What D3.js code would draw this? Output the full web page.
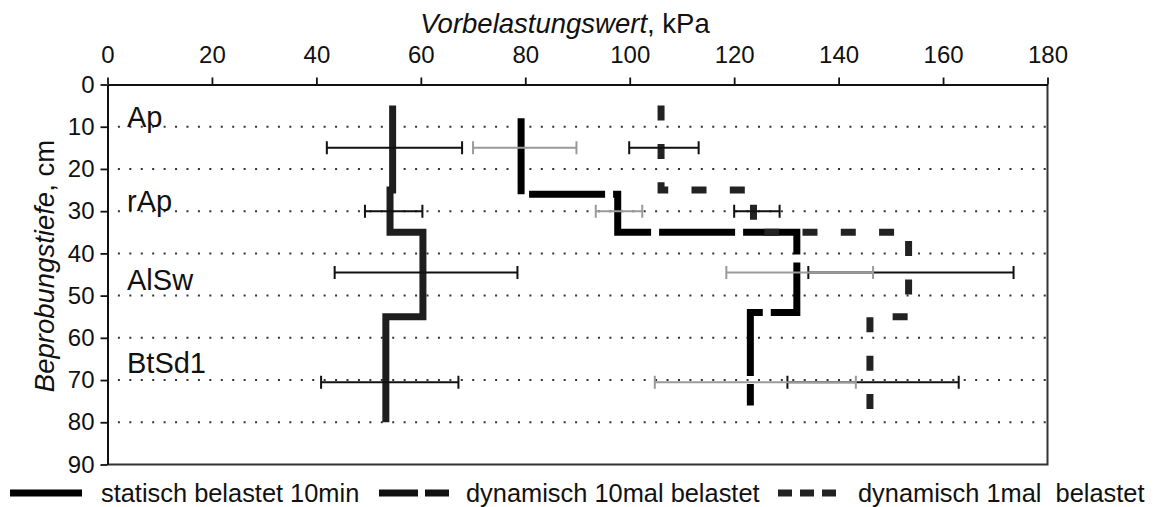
<!doctype html>
<html lang="de">
<head>
    <meta charset="utf-8">
    <title>Vorbelastungswert</title>
    <script src="https://d3js.org/d3.v7.min.js"></script>
    <style type="text/css">
        body { margin: 0; background: #fff; }
        text { font-family: "Liberation Sans", Arial, sans-serif; fill: #111; }
    </style>
</head>

<body>
</body>

<script type="text/javascript">

    var width  = 1154;
    var height = 507;

    // horizons (Bodenhorizonte) and where their labels sit (depth, cm)
    var layers     = ["Ap", "rAp", "AlSw", "BtSd1"];
    var labelDepth = [10, 30, 48.6, 68.4];

    // step profiles: value per horizon, depth boundaries (cm)
    var statValues = [54.6, 54.1, 60.4, 53.3];
    var statDepths = [5, 25, 35, 55, 80];
    var dyn10Values = [79.2, 97.7, 132, 123.1];
    var dyn10Depths = [8, 26, 35, 54, 76];
    var dyn1Values = [106, 123.7, 153.4, 146];
    var dyn1Depths = [5, 25, 35, 55, 77];

    // error bars (lower / upper, kPa) at depth
    var errDepth   = [15, 30, 44.5, 70.5];
    var statLow    = [42.0, 49.3, 43.5, 40.9];
    var statHigh   = [67.9, 60.3, 78.5, 67.2];
    var dyn10Low   = [70.0, 93.5, 118.5, 104.8];
    var dyn10High  = [89.8, 102.4, 146.6, 143.3];
    var dyn1Low    = [99.9, 120.0, 134.2, 130.2];
    var dyn1High   = [113.2, 128.7, 173.5, 163.0];

    var xTicks = [0, 20, 40, 60, 80, 100, 120, 140, 160, 180];
    var yTicks = [0, 10, 20, 30, 40, 50, 60, 70, 80, 90];
    var gridDepths = [10, 20, 30, 40, 50, 60, 70, 80];

    var legendLabels = ["statisch belastet 10min", "dynamisch 10mal belastet", "dynamisch 1mal  belastet"];

    var x = d3.scaleLinear().domain([0, 180]).range([107.5, 1047.5]);
    var y = d3.scaleLinear().domain([0, 90]).range([84.5, 464.5]);

    var svg = d3.select("body")
        .append("svg")
        .attr("width", width)
        .attr("height", height)
        .style("background", "#fff");

    // dotted grid
    svg.selectAll(".grid")
        .data(gridDepths)
        .enter()
        .append("line")
        .attr("x1", x(0) + 0.5)
        .attr("x2", x(180))
        .attr("y1", d => y(d))
        .attr("y2", d => y(d))
        .attr("stroke", "#333")
        .attr("stroke-width", 2)
        .attr("stroke-dasharray", "2,9.43")
        .attr("stroke-dashoffset", -9.9);

    // frame right / bottom
    svg.append("path")
        .attr("d", "M" + x(180) + "," + y(0) + "V" + y(90) + "H" + x(0))
        .attr("fill", "none")
        .attr("stroke", "#333")
        .attr("stroke-width", 2);

    // axes
    var xAxis = svg.append("g")
        .attr("transform", "translate(0," + y(0) + ")")
        .call(d3.axisTop(x).tickValues(xTicks).tickSize(7).tickSizeOuter(0).tickPadding(15));

    var yAxis = svg.append("g")
        .attr("transform", "translate(" + x(0) + ",0)")
        .call(d3.axisLeft(y).tickValues(yTicks).tickSize(7).tickSizeOuter(0).tickPadding(6));

    [xAxis, yAxis].forEach(g => {
        g.select(".domain").attr("stroke", "#111").attr("stroke-width", 2);
        g.selectAll(".tick line").attr("stroke", "#111").attr("stroke-width", 1.8);
        g.selectAll(".tick text")
            .attr("fill", "#111")
            .style("font-size", "24px")
            .style("font-family", "'Liberation Sans', Arial, sans-serif");
    });

    // axis titles
    var xt = svg.append("text")
        .attr("x", 565)
        .attr("y", 33)
        .attr("text-anchor", "middle")
        .style("font-size", "27.5px");
    xt.append("tspan").style("font-style", "italic").text("Vorbelastungswert");
    xt.append("tspan").text(", kPa");

    var yt = svg.append("text")
        .attr("transform", "translate(54,266) rotate(-90)")
        .attr("text-anchor", "middle")
        .style("font-size", "27.5px");
    yt.append("tspan").style("font-style", "italic").text("Beprobungstiefe");
    yt.append("tspan").text(", cm");

    // horizon labels
    svg.selectAll(".layer")
        .data(layers)
        .enter()
        .append("text")
        .attr("x", 127)
        .attr("y", (d, i) => y(labelDepth[i]))
        .style("font-size", "29px")
        .text(d => d);

    // step profiles
    function stepPoints(values, depths) {
        var pts = [];
        values.forEach((v, i) => {
            pts.push([v, depths[i]]);
            pts.push([v, depths[i + 1]]);
        });
        return pts;
    }

    var line = d3.line().x(d => x(d[0])).y(d => y(d[1]));

    var series = [
        {pts: stepPoints(statValues, statDepths), color: "#1e1e1e", dash: null},
        {pts: stepPoints(dyn10Values, dyn10Depths), color: "#000", dash: "76,8"},
        {pts: stepPoints(dyn1Values, dyn1Depths), color: "#222", dash: "15,23.3"}
    ];

    svg.selectAll(".profile")
        .data(series)
        .enter()
        .append("path")
        .attr("d", d => line(d.pts))
        .attr("fill", "none")
        .attr("stroke", d => d.color)
        .attr("stroke-width", 7)
        .attr("stroke-linejoin", "miter")
        .attr("stroke-dasharray", d => d.dash);

    // error bars: black ones first, grey on top
    var bars = [
        {lo: statLow, hi: statHigh, color: "#111"},
        {lo: dyn1Low, hi: dyn1High, color: "#111"},
        {lo: dyn10Low, hi: dyn10High, color: "#9a9a9a"}
    ];

    bars.forEach(b => {
        var g = svg.append("g")
            .attr("stroke", b.color)
            .attr("stroke-width", 2)
            .attr("fill", "none");
        g.selectAll("path")
            .data(errDepth)
            .enter()
            .append("path")
            .attr("d", (d, i) => {
                var yy = y(d), x0 = x(b.lo[i]), x1 = x(b.hi[i]);
                return "M" + x0 + "," + (yy - 6.5) + "V" + (yy + 6.5) +
                       "M" + x0 + "," + yy + "H" + x1 +
                       "M" + x1 + "," + (yy - 6.5) + "V" + (yy + 6.5);
            });
    });

    // legend
    var legendItems = [
        {x1: 10, x2: 82, tx: 101, color: "#000", dash: null},
        {x1: 379, x2: 449, tx: 466, color: "#111", dash: "39,7"},
        {x1: 778, x2: 836, tx: 858, color: "#222", dash: "14,8"}
    ];

    var lg = svg.selectAll(".legend")
        .data(legendItems)
        .enter()
        .append("g");

    lg.append("line")
        .attr("x1", d => d.x1)
        .attr("x2", d => d.x2)
        .attr("y1", 493)
        .attr("y2", 493)
        .attr("stroke", d => d.color)
        .attr("stroke-width", 7)
        .attr("stroke-dasharray", d => d.dash);

    lg.append("text")
        .attr("x", d => d.tx)
        .attr("y", 502)
        .attr("xml:space", "preserve")
        .style("white-space", "pre")
        .style("font-size", "25.4px")
        .text((d, i) => legendLabels[i]);

</script>

</html>
